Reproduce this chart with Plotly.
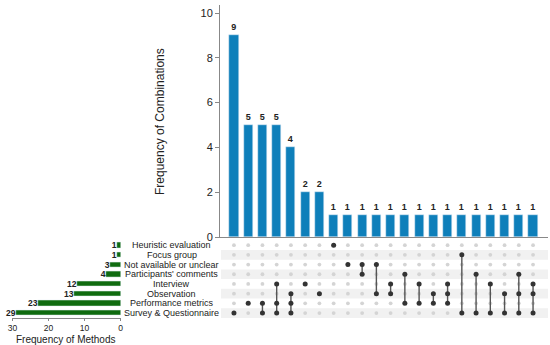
import plotly.graph_objects as go

methods = ["Survey & Questionnaire", "Performance metrics", "Observation", "Interview",
           "Participants' comments", "Not available or unclear", "Focus group", "Heuristic evaluation"]
method_freq = [29, 23, 13, 12, 4, 3, 1, 1]

combo_freq = [9, 5, 5, 5, 4, 2, 2, 1, 1, 1, 1, 1, 1, 1, 1, 1, 1, 1, 1, 1, 1, 1]
combo_sets = [
    ["Survey & Questionnaire"],
    ["Performance metrics"],
    ["Performance metrics", "Survey & Questionnaire"],
    ["Interview", "Performance metrics", "Survey & Questionnaire"],
    ["Observation", "Performance metrics", "Survey & Questionnaire"],
    ["Interview"],
    ["Observation"],
    ["Heuristic evaluation"],
    ["Not available or unclear"],
    ["Not available or unclear", "Participants' comments"],
    ["Not available or unclear", "Observation"],
    ["Interview", "Observation"],
    ["Participants' comments", "Performance metrics"],
    ["Interview", "Performance metrics"],
    ["Observation", "Performance metrics"],
    ["Interview", "Observation", "Performance metrics"],
    ["Focus group", "Survey & Questionnaire"],
    ["Participants' comments", "Survey & Questionnaire"],
    ["Interview", "Survey & Questionnaire"],
    ["Observation", "Survey & Questionnaire"],
    ["Participants' comments", "Observation", "Survey & Questionnaire"],
    ["Interview", "Observation", "Survey & Questionnaire"],
]

W, H = 550, 345
FONT = "Liberation Sans, Arial, sans-serif"
BLUE = "#0e7fba"
GREEN = "#0f6b0f"

def px(x):
    return x / W

def py(y):
    return 1 - y / H

ncol = len(combo_freq)
xs = list(range(ncol))
nrow = len(methods)
rows = list(range(nrow))

fig = go.Figure()

# top bars
fig.add_trace(go.Bar(
    x=xs, y=combo_freq, marker_color=BLUE, width=0.64,
    text=[str(v) for v in combo_freq], textposition="outside", constraintext="none",
    textfont=dict(family=FONT, size=9, color="#222", weight="bold"), cliponaxis=False,
    xaxis="x", yaxis="y", showlegend=False, hoverinfo="skip"))

# matrix gray dots
gx, gy = [], []
for c in xs:
    for r in rows:
        gx.append(c)
        gy.append(r)
fig.add_trace(go.Scatter(x=gx, y=gy, mode="markers",
                         marker=dict(color="#d4d4d4", size=3.8),
                         xaxis="x2", yaxis="y2", showlegend=False, hoverinfo="skip"))

# connecting lines
lx, ly = [], []
dx, dy = [], []
for c, s in enumerate(combo_sets):
    idx = [methods.index(m) for m in s]
    if len(idx) > 1:
        lx += [c, c, None]
        ly += [min(idx), max(idx), None]
    for i in idx:
        dx.append(c)
        dy.append(i)
fig.add_trace(go.Scatter(x=lx, y=ly, mode="lines", line=dict(color="#555", width=1.4),
                         xaxis="x2", yaxis="y2", showlegend=False, hoverinfo="skip"))
fig.add_trace(go.Scatter(x=dx, y=dy, mode="markers", marker=dict(color="#333", size=5),
                         xaxis="x2", yaxis="y2", showlegend=False, hoverinfo="skip"))

# left bars
fig.add_trace(go.Bar(
    x=method_freq, y=rows, orientation="h", marker_color=GREEN, width=0.55,
    text=[str(v) for v in method_freq], textposition="outside", constraintext="none",
    textfont=dict(family=FONT, size=8.5, color="#222", weight="bold"), cliponaxis=False,
    xaxis="x3", yaxis="y3", showlegend=False, hoverinfo="skip"))

xr = [-0.98, 22.05]
yrow = [-0.5, 7.5]
dom_x = [px(220), px(548)]
dom_m = [py(317.9), py(240.3)]

shapes = []
for r in rows:
    if r % 2 == 0:
        shapes.append(dict(type="rect", xref="paper", yref="y2", x0=px(221), x1=px(548),
                           y0=r - 0.5, y1=r + 0.5, fillcolor="#f1f1f1", line_width=0, layer="below"))

annotations = []
for r, m in enumerate(methods):
    annotations.append(dict(x=px(171.5), y=r, xref="paper", yref="y2", text=m, showarrow=False,
                            xanchor="center", yanchor="middle",
                            font=dict(family=FONT, size=9, color="#222")))
annotations.append(dict(x=px(160), y=py(122), xref="paper", yref="paper",
                        text="Frequency of Combinations", textangle=-90, showarrow=False,
                        xanchor="center", yanchor="middle",
                        font=dict(family=FONT, size=12, color="#222")))
annotations.append(dict(x=px(66), y=py(339), xref="paper", yref="paper",
                        text="Frequency of Methods", showarrow=False,
                        xanchor="center", yanchor="middle",
                        font=dict(family=FONT, size=10, color="#222")))

fig.update_layout(
    width=W, height=H, margin=dict(l=0, r=0, t=0, b=0, pad=0, autoexpand=False),
    paper_bgcolor="white", plot_bgcolor="white",
    font=dict(family=FONT, color="#222"),
    bargap=0,
    shapes=shapes, annotations=annotations,
    xaxis=dict(domain=dom_x, range=xr, showticklabels=False, ticks="", showgrid=False,
               zeroline=False, showline=True, linecolor="#888", linewidth=1, anchor="y",
               automargin=False),
    yaxis=dict(domain=[py(237), py(5)], range=[0, 10.357], showgrid=False, zeroline=False,
               showline=True, linecolor="#888", linewidth=1, ticks="outside", ticklen=4,
               tickcolor="#888", tickvals=[0, 2, 4, 6, 8, 10], automargin=False,
               tickfont=dict(family=FONT, size=11, color="#222"), anchor="x"),
    xaxis2=dict(domain=dom_x, range=xr, visible=False, anchor="y2", automargin=False),
    yaxis2=dict(domain=dom_m, range=yrow, visible=False, anchor="x2", automargin=False),
    xaxis3=dict(domain=[px(12), px(121)], range=[30.14, -0.14], showgrid=False, zeroline=False,
                showline=True, linecolor="#888", linewidth=1, ticks="outside", ticklen=2,
                tickcolor="#888", tickvals=[0, 10, 20, 30], automargin=False,
                anchor="free", position=py(318),
                tickfont=dict(family=FONT, size=8.5, color="#222")),
    yaxis3=dict(domain=dom_m, range=yrow, visible=False, anchor="x3", automargin=False),
)

fig.write_html("out.html", config={"displayModeBar": False},
               post_script="document.body.style.margin='0';document.body.style.padding='0';")
